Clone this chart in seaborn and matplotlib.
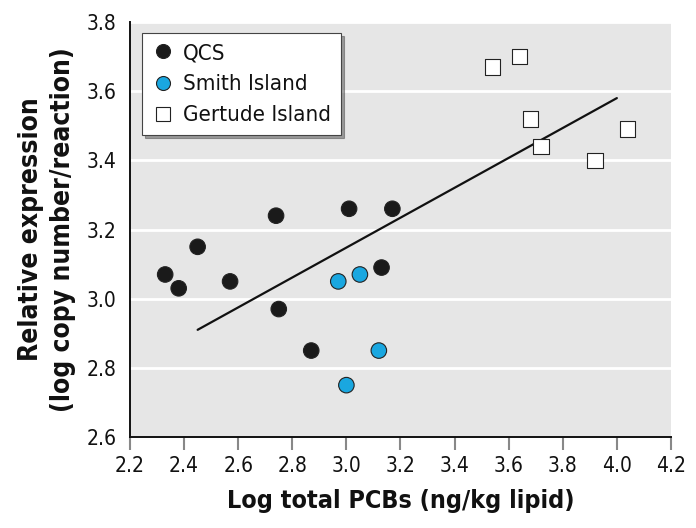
import numpy as np
import pandas as pd
import matplotlib
matplotlib.use("Agg")
import matplotlib.pyplot as plt
import seaborn as sns

# values
qcs_x = [2.33, 2.38, 2.45, 2.57, 2.74, 2.75, 2.87, 3.01, 3.17, 3.13]
qcs_y = [3.07, 3.03, 3.15, 3.05, 3.24, 2.97, 2.85, 3.26, 3.26, 3.09]
smith_x = [2.97, 3.05, 3.12, 3.00]
smith_y = [3.05, 3.07, 2.85, 2.75]
gert_x = [3.54, 3.64, 3.68, 3.72, 3.92, 4.04]
gert_y = [3.67, 3.70, 3.52, 3.44, 3.40, 3.49]
fit_x = [2.45, 4.00]
fit_y = [2.91, 3.58]

df = pd.DataFrame({
    "x": qcs_x + smith_x + gert_x,
    "y": qcs_y + smith_y + gert_y,
    "site": ["QCS"] * len(qcs_x) + ["Smith Island"] * len(smith_x)
            + ["Gertude Island"] * len(gert_x),
})

sns.set_style("white")
plt.rcParams["font.family"] = ["DejaVu Sans"]
plt.rcParams["font.stretch"] = "condensed"
plt.rcParams["text.color"] = "#111111"
plt.rcParams["xtick.color"] = "#888888"
plt.rcParams["xtick.labelcolor"] = "#111111"
plt.rcParams["ytick.labelcolor"] = "#111111"
plt.rcParams["axes.labelcolor"] = "#111111"

fig = plt.figure(figsize=(6.96, 5.28), dpi=100)
ax = fig.add_axes([0.1868, 0.1723, 0.7772, 0.786])
ax.set_facecolor("#e6e6e6")

sns.scatterplot(
    data=df, x="x", y="y", hue="site", style="site",
    hue_order=["QCS", "Smith Island", "Gertude Island"],
    style_order=["QCS", "Smith Island", "Gertude Island"],
    palette={"QCS": "#1a1a1a", "Smith Island": "#1aa7e0", "Gertude Island": "white"},
    markers={"QCS": "o", "Smith Island": "o", "Gertude Island": "s"},
    s=125, edgecolor="#222222", linewidth=0.8, ax=ax, zorder=3,
)
sns.lineplot(x=fit_x, y=fit_y, color="#111111", linewidth=1.6, ax=ax, zorder=2)

ax.set_xlim(2.2, 4.2)
ax.set_ylim(2.6, 3.8)
ax.set_xticks(np.arange(2.2, 4.21, 0.2))
ax.set_yticks(np.arange(2.6, 3.81, 0.2))
ax.set_xticklabels([f"{v:.1f}" for v in np.arange(2.2, 4.21, 0.2)])
ax.set_yticklabels([f"{v:.1f}" for v in np.arange(2.6, 3.81, 0.2)])
ax.yaxis.grid(True, color="white", linewidth=2)
ax.set_axisbelow(True)

for s in ["top", "right"]:
    ax.spines[s].set_visible(False)
ax.spines["left"].set_color("#111111")
ax.spines["bottom"].set_color("#111111")
ax.spines["left"].set_linewidth(1.4)
ax.spines["bottom"].set_linewidth(1.4)

ax.tick_params(axis="x", bottom=True, length=9, width=1.5, labelsize=15, pad=5)
ax.tick_params(axis="y", left=False, labelsize=15, pad=6)

ax.set_xlabel("Log total PCBs (ng/kg lipid)", fontsize=18, fontweight="bold",
              labelpad=9)
ax.set_ylabel("Relative expression\n(log copy number/reaction)", fontsize=19,
              fontweight="bold", labelpad=8, linespacing=1.3)

handles, labels = ax.get_legend_handles_labels()
leg = ax.legend(handles, labels, loc="upper left", bbox_to_anchor=(0.022, 0.973),
                fontsize=16, frameon=True, fancybox=False, shadow=True,
                framealpha=1, edgecolor="#444444", handlelength=1.0,
                handletextpad=0.4, borderpad=0.45, labelspacing=0.5,
                markerscale=0.9, borderaxespad=0)
leg.get_frame().set_linewidth(0.8)

fig.savefig("out.png", dpi=100)
